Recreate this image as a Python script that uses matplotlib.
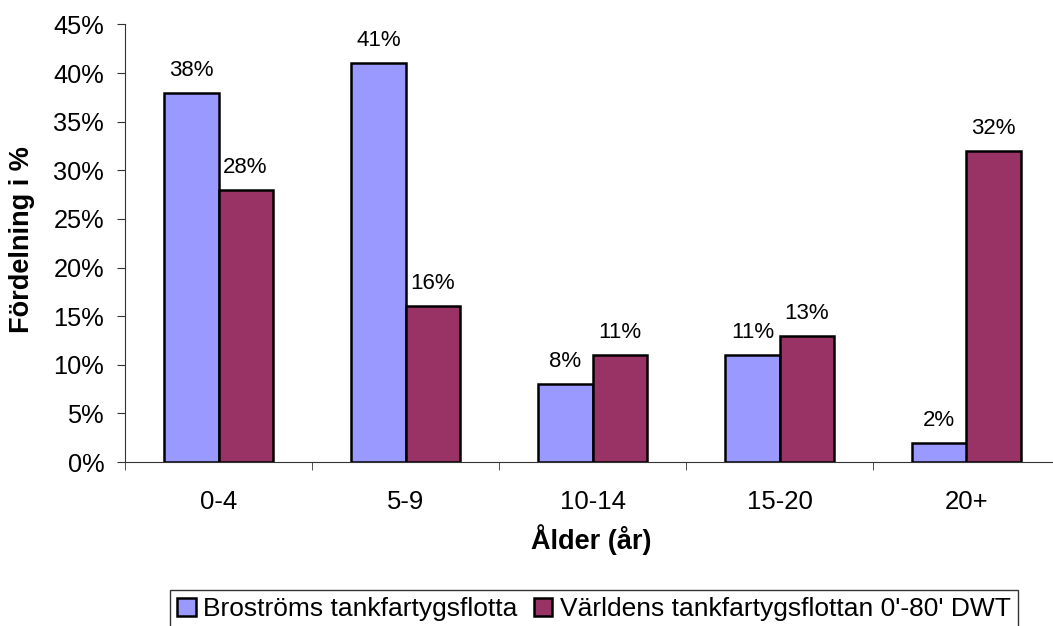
import numpy as np
import matplotlib.pyplot as plt

plt.rcParams['font.family'] = ['Liberation Sans', 'DejaVu Sans']

categories = ['0-4', '5-9', '10-14', '15-20', '20+']
brostrom = [38, 41, 8, 11, 2]
varlden = [28, 16, 11, 13, 32]
series_names = ['Broströms tankfartygsflotta', "Världens tankfartygsflottan 0'-80' DWT"]

fig = plt.figure(figsize=(10.53, 6.26), dpi=100)
ax = fig.add_axes([125/1053, 1 - 462/626, 935/1053, (462 - 24.5)/626])

x = np.arange(len(categories))
w = 0.29
b1 = ax.bar(x - w/2, brostrom, width=w, color='#9999FF', edgecolor='black', linewidth=1.8, label=series_names[0])
b2 = ax.bar(x + w/2, varlden, width=w, color='#993366', edgecolor='black', linewidth=1.8, label=series_names[1])

for bars, vals in [(b1, brostrom), (b2, varlden)]:
    for r, v in zip(bars, vals):
        ax.text(r.get_x() + r.get_width()/2, v + 1.75, f'{v}%', ha='center', va='baseline', fontsize=16)

ax.set_xlim(-0.5, len(categories) - 0.5)
ax.set_ylim(0, 45)
ax.set_yticks(np.arange(0, 46, 5))
ax.set_yticklabels([f'{t}%' for t in range(0, 46, 5)], fontsize=18.3)
ax.set_xticks(x)
ax.set_xticklabels(categories, fontsize=18.5)
ax.set_xticks(np.arange(-0.5, len(categories), 1), minor=True)
ax.tick_params(axis='x', which='major', length=0, pad=20.5)
ax.tick_params(axis='x', which='minor', length=6, direction='out', color='#333333')
ax.tick_params(axis='y', length=6, direction='out', color='#333333', pad=9)
for s in ['top', 'right']:
    ax.spines[s].set_visible(False)
ax.spines['left'].set_color('#333333')
ax.spines['bottom'].set_color('#333333')

ax.set_ylabel('Fördelning i %', fontsize=19.5, fontweight='bold')
ax.yaxis.set_label_coords(-(125 - 35)/935, 0.508)
ax.set_xlabel('Ålder (år)', fontsize=19.5, fontweight='bold')
ax.xaxis.set_label_coords((591 - 125)/935, -(524 - 462)/437.5)

leg = fig.legend(loc='center', bbox_to_anchor=(594/1053, 1 - 609/626), ncol=2, fontsize=19,
                 frameon=True, fancybox=False, edgecolor='black', handlelength=0.7, handleheight=0.7,
                 handletextpad=0.3, columnspacing=0.6, borderpad=0.25)
leg.get_frame().set_linewidth(1.0)
for h in leg.legend_handles:
    h.set_linewidth(1.8)

plt.savefig('out.png', dpi=100)
